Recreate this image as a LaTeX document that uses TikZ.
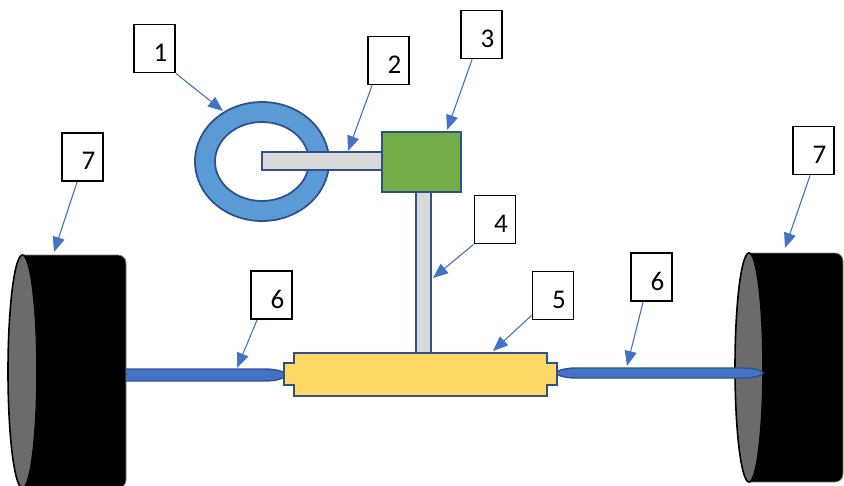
\documentclass[tikz,border=0pt]{standalone}
\usepackage{fontspec}
\setmainfont{Carlito}
\usetikzlibrary{arrows.meta}
\definecolor{edge}{HTML}{2F528F}
\definecolor{callout}{HTML}{4472C4}
\definecolor{ringblue}{HTML}{5B9BD5}
\definecolor{shaftgray}{HTML}{D9D9D9}
\definecolor{boxgreen}{HTML}{70AD47}
\definecolor{rackyellow}{HTML}{FFD966}
\definecolor{rodblue}{HTML}{4472C4}
\definecolor{tireface}{HTML}{6B6B6B}
\definecolor{tirerim}{HTML}{808080}
\tikzset{
  numbox/.style={draw=black, line width=1.8pt, fill=white, inner sep=0pt,
    minimum width=41pt, minimum height=48pt},
  numtext/.style={font=\fontsize{27}{30}\selectfont, xshift=6pt, yshift=-4pt},
  pointer/.style={draw=callout, line width=1.1pt,
    -{Triangle[length=15pt,width=12pt]}},
  part/.style={draw=edge, line width=1.8pt},
  tirebody/.style={fill=black, draw=tirerim, line width=0.8pt},
  tireside/.style={fill=tireface, draw=black, line width=1.6pt},
}
\begin{document}
\begin{tikzpicture}[x=1pt, y=-1pt]
\useasboundingbox (0,0) rectangle (844,485);

% left tie rod (its outer end runs under the wheel)
\filldraw[part, fill=rodblue, line width=1.4pt]
  (100,369) -- (264,369) .. controls (276,369) and (286,371.7) .. (286,375)
  .. controls (286,378.3) and (276,381) .. (264,381) -- (100,381) -- cycle;

% left wheel
\draw[tirebody] (22,255) -- (118,255) .. controls (122.5,255) and (126,258.5) .. (126,263)
  -- (126,480) .. controls (126,484.5) and (122.5,488) .. (118,488) -- (22,488) -- cycle;
\draw[tireside] (22.5,371.5) ellipse [x radius=14.5, y radius=116.5];

% right wheel
\draw[tirebody] (749,253) -- (835,253) .. controls (839.5,253) and (843,256.5) .. (843,261)
  -- (843,474) .. controls (843,478.5) and (839.5,482) .. (835,482) -- (749,482) -- cycle;
\draw[tireside] (749,367.5) ellipse [x radius=14, y radius=114.5];

% right tie rod, lying over the wheel face
\filldraw[part, fill=rodblue, line width=1.4pt]
  (576,368) -- (743,368) .. controls (754,368) and (763,370.8) .. (763,373)
  .. controls (763,375.2) and (754,378) .. (743,378) -- (576,378)
  .. controls (565,378) and (556,375.2) .. (556,373)
  .. controls (556,370.8) and (565,368) .. (576,368) -- cycle;

% steering rack housing
\filldraw[part, fill=rackyellow]
  (294,353) -- (547,353) -- (547,363) -- (557,363) -- (557,385) -- (547,385)
  -- (547,396) -- (294,396) -- (294,385) -- (284,385) -- (284,363) -- (294,363) -- cycle;

% steering column (lower)
\filldraw[part, fill=shaftgray] (416,192) rectangle (431,353);

% steering wheel
\filldraw[part, fill=ringblue, even odd rule]
  (262,161.5) ellipse [x radius=67, y radius=59.5]
  (262,161.5) ellipse [x radius=47, y radius=39.5];

% steering column (upper)
\filldraw[part, fill=shaftgray] (262,152) rectangle (383,170);

% steering gearbox
\filldraw[part, fill=boxgreen] (382,132) rectangle (461,192);

% anchor points on the parts
\coordinate (p1) at (223,111);
\coordinate (p2) at (348,151);
\coordinate (p3) at (447,130);
\coordinate (p4) at (433,278);
\coordinate (p5) at (493,351);
\coordinate (p6a) at (237,368);
\coordinate (p6b) at (627,366);
\coordinate (p7a) at (54,252);
\coordinate (p7b) at (785,248);

% numbered callouts
\node[numbox, label={[numtext]center:1}] (n1) at (154.5,48.5) {};
\node[numbox, label={[numtext]center:2}] (n2) at (388.5,60.5) {};
\node[numbox, label={[numtext]center:3}] (n3) at (481.5,34.5) {};
\node[numbox, label={[numtext]center:4}] (n4) at (495,219.5) {};
\node[numbox, label={[numtext]center:5}] (n5) at (553,295.5) {};
\node[numbox, label={[numtext]center:6}] (n6a) at (271.5,295) {};
\node[numbox, label={[numtext]center:6}] (n6b) at (651.5,277) {};
\node[numbox, label={[numtext]center:7}] (n7a) at (82.5,157) {};
\node[numbox, label={[numtext]center:7}] (n7b) at (813.5,150.5) {};

% pointers
\draw[pointer] (n1.south east) -- (p1);
\draw[pointer] ([xshift=5pt]n2.south west) -- (p2);
\draw[pointer] ([xshift=12pt]n3.south west) -- (p3);
\draw[pointer] (n4.south west) -- (p4);
\draw[pointer] ([yshift=5pt]n5.south west) -- (p5);
\draw[pointer] ([xshift=7pt]n6a.south west) -- (p6a);
\draw[pointer] ([xshift=13pt]n6b.south west) -- (p6b);
\draw[pointer] ([xshift=16pt]n7a.south west) -- (p7a);
\draw[pointer] ([xshift=18pt]n7b.south west) -- (p7b);
\end{tikzpicture}
\end{document}
